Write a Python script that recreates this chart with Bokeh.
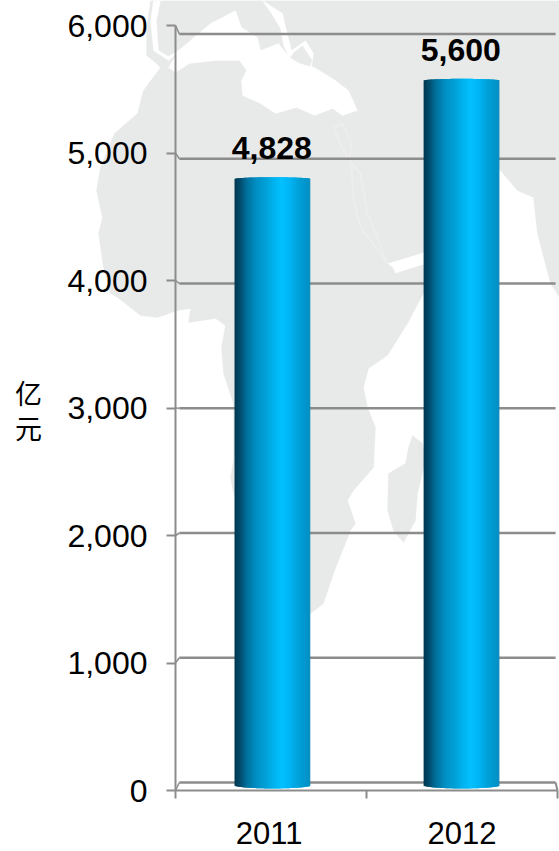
from bokeh.embed import file_html
from bokeh.resources import INLINE
from bokeh.plotting import figure
from bokeh.models import (ColumnDataSource, FixedTicker, NumeralTickFormatter,
                          PolyAnnotation, Range1d, Label)
from bokeh.core.properties import value

# ---- data ----
years = ["2011", "2012"]
amounts = [4828, 5600]
y_ticks = [0, 1000, 2000, 3000, 4000, 5000, 6000]
unit_chars = ["亿", "元"]

# ---- decorative map backdrop (page pixels) ----
land_x = [150,146,146,155,160,143,137,114,100,96,102,98,103,110,117,140,157,177,190,188,215,225,221,223,233,233,230,233,310,323,333,350,355,347,353,373,375,367,363,368,387,407,423,440,423,395,392,387,423,499,500,517,533,537,550,559,559]
land_y = [0,30,55,62,67,90,113,133,167,190,217,233,267,293,297,315,317,310,308,322,318,325,347,373,403,460,477,493,613,603,573,530,523,500,490,467,427,407,387,368,355,323,293,285,264,273,267,263,252,170,170,190,197,233,283,297,0]
med_x = [178,210,235,241,257,260,278,289,299,314,335,348,357,342,332,314,296,275,260,242,241,246,239,217,189,175,168]
med_y = [50,23,10,27,37,50,43,57,63,67,80,90,110,115,108,115,107,113,103,95,80,70,60,60,63,72,67]
iberia_x = [153,150,153,168,189,168,158,156,160,153]
iberia_y = [0,20,50,60,43,56,50,20,0,0]
anatolia_x = [262,282,286,291,305,313,311,323,313,307,312,302,293,289,283,280,271,262]
anatolia_y = [0,13,30,50,40,53,67,73,70,72,60,45,52,58,45,28,13,0]
red_sea_x = [333,342,351,353,360,378,387,378,367,360,349,351,342]
red_sea_y = [127,147,163,200,227,250,263,240,213,173,160,143,123]
mada_x = [412,422,425,417,415,403,393,387,388,405,408]
mada_y = [435,443,460,493,520,542,530,510,473,463,447]

# ---- styling / layout constants ----
W, H = 559, 851
GREY = "#8c8c8c"
LAND = "#e8e9e9"
FONT = "Liberation Sans"
BAR_CENTRES = [0.507, 1.497]
BAR_WIDTH = 0.396
TOP_DROP = 22
BACK_BASE, BACK_SCALE = 63, 0.9783
STUB, GRID_END = 0.02, 1.99
AX_LEFT, AX_RIGHT, AX_TOP, AX_BOTTOM = 175, 557, 25, 790
PX_X = (AX_RIGHT - AX_LEFT) / 2       # pixels per x unit
PX_Y = (AX_BOTTOM - AX_TOP) / 6000    # pixels per y unit

# The frame covers the whole canvas so that the map can run behind the tick labels;
# the axes are pinned inside it with fixed_location.
p = figure(width=W, height=H, output_backend="svg", toolbar_location=None,
           x_range=Range1d(-AX_LEFT / PX_X, (W - AX_LEFT) / PX_X),
           y_range=Range1d(-(H - AX_BOTTOM) / PX_Y, AX_BOTTOM / PX_Y),
           min_border=0, outline_line_color=None,
           background_fill_color="white", border_fill_color="white")
p.grid.visible = False


def poly(xs, ys, fill, line=None, lw=0):
    p.add_layout(PolyAnnotation(
        xs=list(xs), ys=[H - y for y in ys], xs_units="screen", ys_units="screen",
        fill_color=fill, fill_alpha=1, line_color=line, line_width=lw, level="image"))


poly(land_x, land_y, LAND, LAND, 1)
poly(med_x, med_y, "white", "white", 1)
poly(iberia_x, iberia_y, "white", "white", 1)
poly(anatolia_x, anatolia_y, "white", "white", 1)
poly(red_sea_x, red_sea_y, LAND, "#f8f8f8", 2)
poly(mada_x, mada_y, LAND, LAND, 1)

# axes
y_ax = p.yaxis[0]
y_ax.fixed_location = 0
y_ax.bounds = (0, 6000)
y_ax.ticker = FixedTicker(ticks=y_ticks)
y_ax.formatter = NumeralTickFormatter(format="0,0")
y_ax.axis_line_color = GREY
y_ax.axis_line_width = 2
y_ax.major_tick_line_color = GREY
y_ax.major_tick_line_width = 2
y_ax.major_tick_in = 0
y_ax.major_tick_out = 9
y_ax.minor_tick_line_color = None
y_ax.major_label_standoff = 19
y_ax.major_label_text_font = FONT
y_ax.major_label_text_font_size = "32px"
y_ax.major_label_text_color = "black"

x_ax = p.xaxis[0]
x_ax.fixed_location = 0
x_ax.bounds = (0, 2)
x_ax.ticker = FixedTicker(ticks=[0.49, 1.5], minor_ticks=[0, 1, 2])
x_ax.major_label_overrides = {0.49: years[0], 1.5: years[1]}
x_ax.axis_line_color = GREY
x_ax.axis_line_width = 2
x_ax.major_tick_line_color = None
x_ax.major_tick_in = 0
x_ax.major_tick_out = 0
x_ax.minor_tick_line_color = GREY
x_ax.minor_tick_line_width = 2
x_ax.minor_tick_in = 0
x_ax.minor_tick_out = 8
x_ax.major_label_standoff = 23
x_ax.major_label_text_font = FONT
x_ax.major_label_text_font_size = "31px"
x_ax.major_label_text_color = "black"

# back-wall gridlines + their little perspective stubs
back = [BACK_BASE + v * BACK_SCALE for v in y_ticks]
p.segment(x0=[STUB] * len(back), x1=[GRID_END] * len(back), y0=back, y1=back,
          line_color=GREY, line_width=2.4, level="underlay")
p.segment(x0=[0] * len(back), x1=[STUB] * len(back), y0=y_ticks, y1=back,
          line_color=GREY, line_width=1.5, level="underlay")
p.segment(x0=[GRID_END], x1=[2], y0=[back[0]], y1=[0],
          line_color=GREY, line_width=2, level="underlay")

# gradient cylinder bars
stops = [(0.00, (0, 54, 80)), (0.08, (0, 78, 110)), (0.16, (0, 112, 155)), (0.28, (0, 142, 194)),
         (0.42, (0, 162, 216)), (0.55, (0, 184, 244)), (0.62, (4, 192, 255)), (0.72, (0, 182, 246)),
         (0.85, (0, 160, 216)), (0.97, (0, 146, 200)), (1.00, (20, 140, 188))]


def shade(t):
    for (t0, c0), (t1, c1) in zip(stops, stops[1:]):
        if t <= t1:
            f = (t - t0) / (t1 - t0)
            return "#%02x%02x%02x" % tuple(round(a + (b - a) * f) for a, b in zip(c0, c1))
    return "#148cbc"


N = 76
for cx, v in zip(BAR_CENTRES, amounts):
    left, right, top, bottom, color = [], [], [], [], []
    for i in range(N):
        t = (i + 0.5) / N
        u = 2 * t - 1
        arc = (1 - u * u) ** 0.5
        left.append(cx - BAR_WIDTH / 2 + BAR_WIDTH * i / N)
        right.append(cx - BAR_WIDTH / 2 + BAR_WIDTH * min(i + 2, N) / N)
        top.append(v - TOP_DROP - 10 + 14 * arc)
        bottom.append(40 - 24 * arc)
        color.append(shade(t))
    p.quad(left=left, right=right, top=top, bottom=bottom, fill_color=color, line_color=None)

# value labels
src = ColumnDataSource(dict(x=[c - 0.003 for c in BAR_CENTRES], y=amounts,
                            t=[f"{v:,}" for v in amounts]))
p.text(x="x", y="y", text="t", source=src, text_align="center", text_baseline="alphabetic",
       y_offset=-27, text_font=value(FONT), text_font_style="bold", text_font_size="32px",
       text_color="black")

# vertical unit label
for ch, sy in zip(unit_chars, [392, 427]):
    p.add_layout(Label(x=28, y=H - sy, x_units="screen", y_units="screen", text=ch,
                       text_font="Noto Sans CJK SC", text_font_size="27px", text_color="black",
                       text_align="center", text_baseline="middle"))

open("out.html", "w").write(file_html(p, INLINE))
